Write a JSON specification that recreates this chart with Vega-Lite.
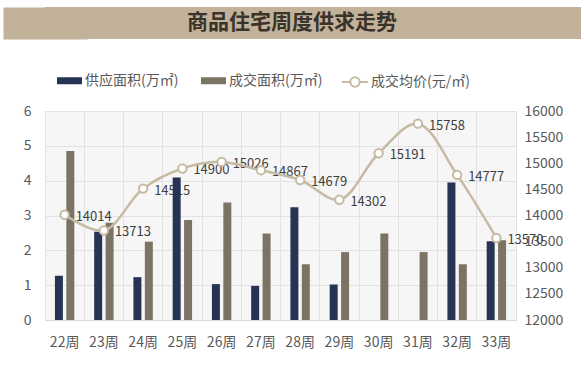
{
  "$schema": "https://vega.github.io/schema/vega-lite/v6.json",
  "background": "white",
  "padding": {"left": 2, "top": 7, "right": 4, "bottom": 0},
  "spacing": 28,
  "config": {
    "font": "Noto Sans CJK SC",
    "axis": {"labelColor": "#595959", "labelFont": "Noto Sans CJK SC", "labelFontSize": 14, "ticks": false, "domain": false, "gridColor": "#e2e2e2", "title": null},
    "legend": {"labelFont": "Noto Sans CJK SC", "labelFontSize": 14, "labelColor": "#595959", "padding": 0, "title": null}
  },
  "datasets": {
    "area": [
      {"week": "22周", "series": "供应面积(万㎡)", "value": 1.27},
      {"week": "22周", "series": "成交面积(万㎡)", "value": 4.85},
      {"week": "23周", "series": "供应面积(万㎡)", "value": 2.53},
      {"week": "23周", "series": "成交面积(万㎡)", "value": 2.79},
      {"week": "24周", "series": "供应面积(万㎡)", "value": 1.23},
      {"week": "24周", "series": "成交面积(万㎡)", "value": 2.25},
      {"week": "25周", "series": "供应面积(万㎡)", "value": 4.09},
      {"week": "25周", "series": "成交面积(万㎡)", "value": 2.87},
      {"week": "26周", "series": "供应面积(万㎡)", "value": 1.03},
      {"week": "26周", "series": "成交面积(万㎡)", "value": 3.37},
      {"week": "27周", "series": "供应面积(万㎡)", "value": 0.98},
      {"week": "27周", "series": "成交面积(万㎡)", "value": 2.48},
      {"week": "28周", "series": "供应面积(万㎡)", "value": 3.24},
      {"week": "28周", "series": "成交面积(万㎡)", "value": 1.6},
      {"week": "29周", "series": "供应面积(万㎡)", "value": 1.02},
      {"week": "29周", "series": "成交面积(万㎡)", "value": 1.95},
      {"week": "30周", "series": "供应面积(万㎡)", "value": 0},
      {"week": "30周", "series": "成交面积(万㎡)", "value": 2.48},
      {"week": "31周", "series": "供应面积(万㎡)", "value": 0},
      {"week": "31周", "series": "成交面积(万㎡)", "value": 1.95},
      {"week": "32周", "series": "供应面积(万㎡)", "value": 3.95},
      {"week": "32周", "series": "成交面积(万㎡)", "value": 1.6},
      {"week": "33周", "series": "供应面积(万㎡)", "value": 2.26},
      {"week": "33周", "series": "成交面积(万㎡)", "value": 2.29}
    ],
    "price": [
      {"week": "22周", "price": 14014},
      {"week": "23周", "price": 13713},
      {"week": "24周", "price": 14515},
      {"week": "25周", "price": 14900},
      {"week": "26周", "price": 15026},
      {"week": "27周", "price": 14867},
      {"week": "28周", "price": 14679},
      {"week": "29周", "price": 14302},
      {"week": "30周", "price": 15191},
      {"week": "31周", "price": 15758},
      {"week": "32周", "price": 14777},
      {"week": "33周", "price": 13570}
    ],
    "banner": [{"t": "商品住宅周度供求走势"}]
  },
  "vconcat": [
    {
      "width": 536,
      "height": 32,
      "view": {"fill": "#c2b299", "stroke": null},
      "data": {"name": "banner"},
      "mark": {"type": "text", "fontSize": 21, "fontWeight": "bold", "color": "#3a332b", "baseline": "middle", "align": "center", "dx": -21},
      "encoding": {
        "text": {"field": "t"},
        "y": {"field": "t", "type": "nominal", "axis": {"labels": false, "ticks": false, "grid": false, "domain": true, "domainColor": "#c2b299", "domainWidth": 84, "domainCap": "butt", "minExtent": 42, "maxExtent": 42}}
      }
    },
    {
      "width": 471,
      "height": 209,
      "view": {"fill": "#f6f6f6", "stroke": "#e2e2e2"},
      "encoding": {
        "x": {
          "field": "week", "type": "nominal", "sort": null,
          "scale": {"paddingInner": 0, "paddingOuter": 0},
          "axis": {"labelAngle": 0, "grid": true, "bandPosition": 0, "labelPadding": 15, "domain": true, "domainColor": "#d9d9d9"}
        }
      },
      "layer": [
        {
          "data": {"name": "price"},
          "mark": {"type": "text", "align": "left", "baseline": "middle", "dx": 11, "dy": 2, "fontSize": 13, "color": "#404040"},
          "encoding": {
            "y": {"field": "price", "type": "quantitative", "scale": {"domain": [12000, 16000], "zero": false}, "axis": null},
            "text": {"field": "price", "type": "quantitative", "format": "d"}
          }
        },
        {
          "data": {"name": "area"},
          "mark": {"type": "bar"},
          "encoding": {
            "xOffset": {"field": "series", "type": "nominal", "sort": ["供应面积(万㎡)", "成交面积(万㎡)"], "scale": {"paddingInner": 0.3, "paddingOuter": 0.87}},
            "y": {"field": "value", "type": "quantitative", "scale": {"domain": [0, 6]}, "axis": {"orient": "left", "values": [0, 1, 2, 3, 4, 5, 6], "labelPadding": 14, "grid": true, "minExtent": 42, "maxExtent": 42}},
            "color": {
              "field": "series", "type": "nominal",
              "scale": {"domain": ["供应面积(万㎡)", "成交面积(万㎡)"], "range": ["#263354", "#7b7363"]},
              "legend": {"orient": "none", "direction": "horizontal", "legendX": 12, "legendY": -43, "symbolType": "M-1,-0.28H1V0.28H-1Z", "symbolSize": 625, "labelOffset": 3, "columnPadding": 22, "symbolStrokeWidth": 0}
            }
          }
        },
        {
          "data": {"name": "price"},
          "encoding": {
            "y": {"field": "price", "type": "quantitative", "scale": {"domain": [12000, 16000], "zero": false}, "axis": {"orient": "right", "values": [12000, 12500, 13000, 13500, 14000, 14500, 15000, 15500, 16000], "labelPadding": 8, "grid": false, "format": "d"}}
          },
          "layer": [
            {
              "mark": {"type": "line", "interpolate": "catmull-rom", "strokeWidth": 2.5},
              "encoding": {
                "stroke": {
                  "datum": "成交均价(元/㎡)",
                  "scale": {"range": ["#c6baa3"]},
                  "legend": {"orient": "none", "legendX": 296, "legendY": -43, "symbolType": "M-1,0H-0.36M0.36,0H1M-0.36,0A0.36,0.36,0,1,0,0.36,0A0.36,0.36,0,1,0,-0.36,0", "symbolSize": 676, "symbolFillColor": "white", "symbolStrokeColor": "#c6baa3", "symbolStrokeWidth": 2, "labelOffset": 2}
                }
              }
            },
            {
              "mark": {"type": "point", "filled": true, "fill": "white", "stroke": "#c6baa3", "strokeWidth": 2, "size": 70, "opacity": 1}
            }
          ]
        }
      ],
      "resolve": {"scale": {"y": "independent", "color": "independent", "stroke": "independent"}}
    }
  ]
}
